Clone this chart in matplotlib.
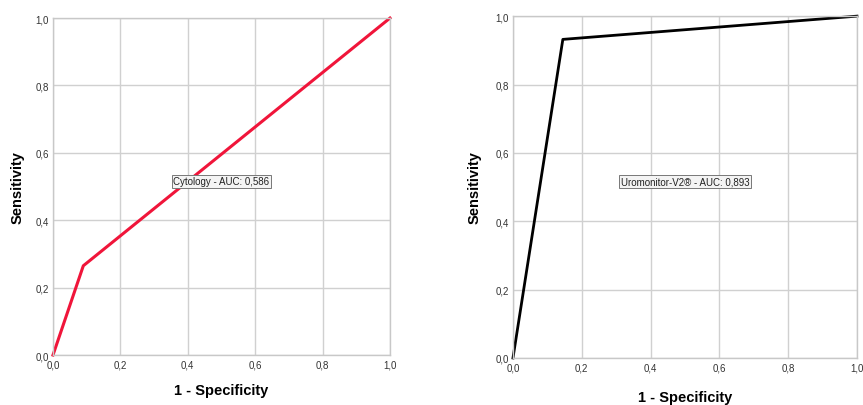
import matplotlib
matplotlib.use("Agg")
import matplotlib.pyplot as plt

plt.rcParams['font.family'] = ['Liberation Sans', 'DejaVu Sans']

ticks = [0.0, 0.2, 0.4, 0.6, 0.8, 1.0]
tick_labels = ["0,0", "0,2", "0,4", "0,6", "0,8", "1,0"]

cyto_fpr = [0.0, 0.09, 1.0]
cyto_tpr = [0.0, 0.265, 1.0]
cyto_label = "Cytology - AUC: 0,586"

uro_fpr = [0.0, 0.145, 1.0]
uro_tpr = [0.0, 0.932, 1.0]
uro_label = "Uromonitor-V2® - AUC: 0,893"

fig = plt.figure(figsize=(8.63, 4.06), dpi=100)
ax1 = fig.add_axes([0.0614, 0.123, 0.3905, 0.830])
ax2 = fig.add_axes([0.5944, 0.1158, 0.3986, 0.842])

def style(ax, ylabpad, xlabpad):
    ax.set_xlim(0, 1)
    ax.set_ylim(0, 1)
    ax.set_xticks(ticks)
    ax.set_xticklabels(tick_labels)
    ax.set_yticks(ticks)
    ax.set_yticklabels(tick_labels)
    ax.grid(True, color='#d0d0d0', linewidth=1.0)
    ax.set_axisbelow(True)
    for s in ax.spines.values():
        s.set_color('#c8c8c8')
        s.set_linewidth(1.0)
    ax.tick_params(length=0, labelsize=7, pad=3, colors='#333333')
    ax.set_xlabel("1 - Specificity", fontsize=10.5, fontweight='bold', labelpad=xlabpad)
    ax.set_ylabel("Sensitivity", fontsize=10.5, fontweight='bold', labelpad=ylabpad)

style(ax1, 8, 10)
style(ax2, 10, 13)

ax1.plot(cyto_fpr, cyto_tpr, color='#f0153a', linewidth=2.2, clip_on=False)
ax2.plot(uro_fpr, uro_tpr, color='#000000', linewidth=2.0, clip_on=False)

bbox = dict(boxstyle='square,pad=0.15', facecolor='#f4f4f4', edgecolor='#777777', linewidth=0.7)
ax1.text(0.5, 0.516, cyto_label, fontsize=7, ha='center', va='center', bbox=bbox, color='#222222')
ax2.text(0.5, 0.517, uro_label, fontsize=7, ha='center', va='center', bbox=bbox, color='#222222')

fig.savefig("out.png", dpi=100)
